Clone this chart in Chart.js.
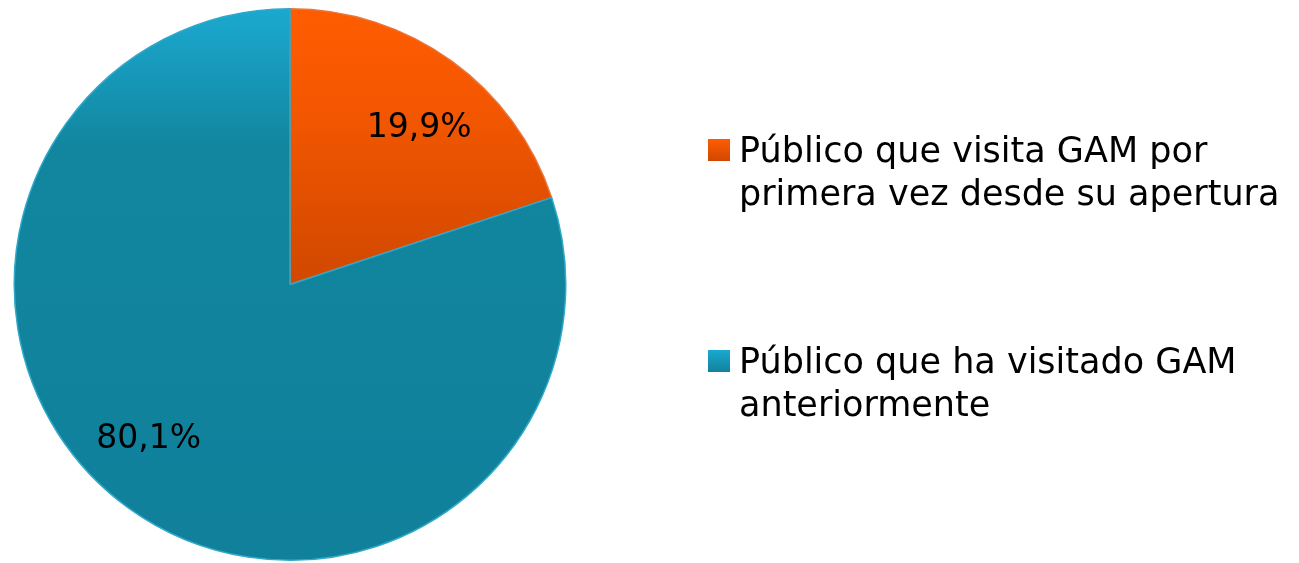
<!DOCTYPE html>
<html>
<head>
<meta charset="utf-8">
<script src="https://cdn.jsdelivr.net/npm/chart.js@4.4.1/dist/chart.umd.min.js"></script>
<style>
  html, body { margin: 0; padding: 0; background: #fff; }
  #wrap { width: 1299px; height: 563px; }
</style>
</head>
<body>
<div id="wrap"><canvas id="pieChart" width="1299" height="563"></canvas></div>
<script>
// chart data
const labels = [
  ["Público que visita GAM por", "primera vez desde su apertura"],
  ["Público que ha visitado GAM", "anteriormente"],
];
const values = [19.9, 80.1];
const valueLabels = ["19,9%", "80,1%"];

const FONT = "'DejaVu Sans', sans-serif";
// where each percentage sits: turn away from slice middle (deg) and share of radius
const labelShift = [3.2, 7.3];
const labelDist = [0.744, 0.75];

// vertical gradient per slice, like the office style fill
function sliceFill(context) {
  const chart = context.chart;
  const area = chart.chartArea;
  if (!area) return null;
  const g = chart.ctx.createLinearGradient(0, area.top, 0, area.bottom);
  if (context.dataIndex === 0) {
    g.addColorStop(0, "#ff5c00");
    g.addColorStop(0.2, "#f25600");
    g.addColorStop(0.5, "#d04800");
    g.addColorStop(1, "#c44300");
  } else {
    g.addColorStop(0, "#1ba9d0");
    g.addColorStop(0.25, "#12869f");
    g.addColorStop(1, "#10809b");
  }
  return g;
}

// draw percentages inside slices
const sliceLabels = {
  id: "sliceLabels",
  afterDatasetsDraw(chart) {
    const ctx = chart.ctx;
    const meta = chart.getDatasetMeta(0);
    const size = 33;
    ctx.save();
    ctx.font = size + "px " + FONT;
    ctx.fillStyle = "#000";
    ctx.textAlign = "center";
    ctx.textBaseline = "alphabetic";
    meta.data.forEach((arc, i) => {
      const mid = (arc.startAngle + arc.endAngle) / 2 + (labelShift[i] * Math.PI) / 180;
      const r = arc.outerRadius * labelDist[i];
      const x = arc.x + Math.cos(mid) * r;
      const y = arc.y + Math.sin(mid) * r;
      ctx.fillText(valueLabels[i], x, y + size * 0.365);
    });
    ctx.restore();
  },
};

// legend on the right with wrapped labels
const sideLegend = {
  id: "sideLegend",
  afterDraw(chart) {
    const ctx = chart.ctx;
    const tops = [139, 350];
    ctx.save();
    ctx.font = "35px " + FONT;
    ctx.textBaseline = "alphabetic";
    labels.forEach((lines, i) => {
      const y = tops[i];
      const g = ctx.createLinearGradient(0, y, 0, y + 22);
      if (i === 0) { g.addColorStop(0, "#ff5c00"); g.addColorStop(1, "#d04800"); }
      else { g.addColorStop(0, "#1ba9d0"); g.addColorStop(1, "#12819d"); }
      ctx.fillStyle = g;
      ctx.fillRect(708, y, 22, 22);
      ctx.fillStyle = "#000";
      lines.forEach((t, j) => {
        ctx.fillText(t, 739, y + 23 + j * 43);
      });
    });
    ctx.restore();
  },
};

new Chart(document.getElementById("pieChart").getContext("2d"), {
  type: "pie",
  data: {
    labels: labels.map((l) => l.join(" ")),
    datasets: [
      {
        data: values,
        backgroundColor: sliceFill,
        borderColor: ["#e8773a", "#2fa8c9"],
        borderWidth: 1.5,
      },
    ],
  },
  options: {
    responsive: false,
    animation: false,
    layout: { padding: { left: 0, right: 719, top: 8, bottom: 2 } },
    plugins: {
      legend: { display: false },
      tooltip: { enabled: false },
    },
  },
  plugins: [sliceLabels, sideLegend],
});
</script>
</body>
</html>
